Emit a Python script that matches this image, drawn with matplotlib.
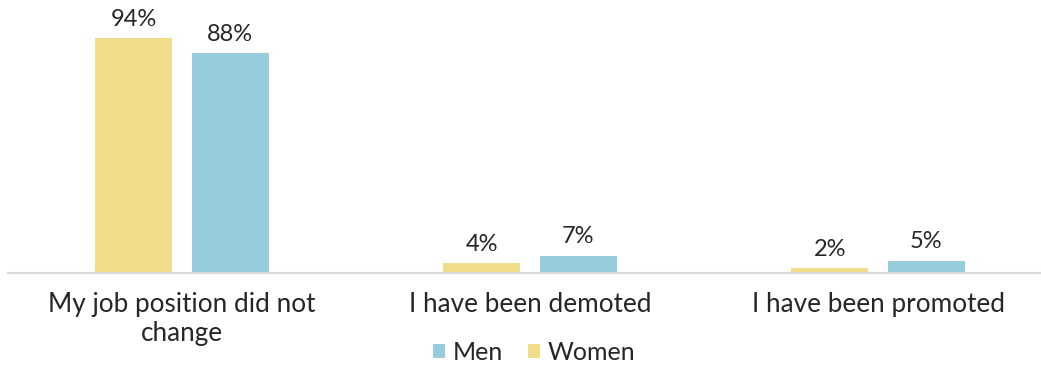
import matplotlib
matplotlib.use("Agg")
import matplotlib.pyplot as plt
import numpy as np

categories = ["My job position did not\nchange", "I have been demoted", "I have been promoted"]
women = [94, 4, 2]
men = [88, 7, 5]

plt.rcParams['font.family'] = ['Lato', 'DejaVu Sans']

fig = plt.figure(figsize=(10.41, 3.70), dpi=100)
ax = fig.add_axes([8/1041, 97/370, 1044/1041, 250/370])

x = np.arange(len(categories))
off = 0.139
w = 0.221
c_w = '#F2DE8A'
c_m = '#96CCDC'
bw = ax.bar(x - off, women, w, color=c_w, label='Women')
bm = ax.bar(x + off, men, w, color=c_m, label='Men')

for bars, vals in ((bw, women), (bm, men)):
    for b, v in zip(bars, vals):
        ax.annotate(f"{v}%", (b.get_x() + b.get_width()/2, v), xytext=(0, 6),
                    textcoords='offset points', ha='center', va='bottom',
                    fontsize=17, color='#262626')

ax.set_xlim(-0.5, 2.5)
ax.set_ylim(0, 100)
ax.set_xticks(x)
ax.set_xticklabels(categories, fontsize=18.8, color='#262626', linespacing=1.18)
ax.tick_params(axis='x', length=0, pad=14)
ax.set_yticks([])
for s in ['top', 'right', 'left']:
    ax.spines[s].set_visible(False)
ax.spines['bottom'].set_color('#D9D9D9')
ax.spines['bottom'].set_linewidth(1.5)

handles = [bm, bw]
leg = fig.legend(handles, ['Men', 'Women'], loc='center', bbox_to_anchor=(534/1041, 1 - 352/370),
                 ncol=2, frameon=False, fontsize=18, handlelength=0.5, handleheight=0.5,
                 handletextpad=0.3, columnspacing=1.0, labelcolor='#262626')

fig.savefig('out.png', dpi=100)
